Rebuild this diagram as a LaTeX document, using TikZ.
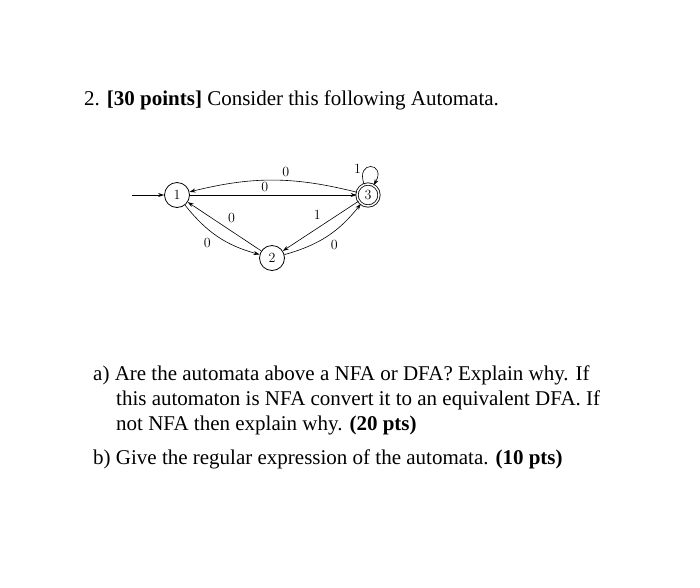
\documentclass[tikz,border=0pt]{standalone}
\usepackage{fontspec}
\setmainfont{Liberation Serif}
\newfontfamily\autofont{Latin Modern Roman}
\usetikzlibrary{arrows.meta}
\begin{document}
\begin{tikzpicture}[x=1pt,y=-1pt,
  st/.style={circle,draw,thick,minimum size=25pt,inner sep=0pt,font=\autofont\fontsize{14}{14}\selectfont},
  acc/.style={st,double,double distance=1.5pt,minimum size=22pt},
  edge/.style={-{Stealth[length=6pt,width=4pt]},semithick},
  lab/.style={font=\autofont\fontsize{14}{14}\selectfont},
  txt/.style={font=\fontsize{21}{25}\selectfont,anchor=base west,inner sep=0pt}]
\useasboundingbox (0,0) rectangle (700,587);
\node[txt] (t) at (84,105) {2. \textbf{[30 points]} Consider this following Automata.};
\node[st] (n1) at (177,195) {1};
\node[acc] (n3) at (368,195) {3};
\node[st] (n2) at (272,258) {2};
\coordinate (s) at (132,195);
\draw[edge] (s) -- (n1);
\draw[edge] (n1) -- node[lab,above,pos=0.45] {0} (n3);
\draw[edge] (n3) to[bend right=14] node[lab,above,pos=0.42] {0} (n1);
\draw[edge] (n1) to[bend right=18] node[lab,below left,pos=0.45] {0} (n2);
\draw[edge] (n2) -- node[lab,above right,pos=0.5] {0} (n1);
\draw[edge] (n3) -- node[lab,above left,pos=0.45] {1} (n2);
\draw[edge] (n2) to[bend right=18] node[lab,below right,pos=0.5] {0} (n3);
\draw[edge] (n3) to[out=110,in=60,looseness=7] node[lab,left,pos=0.3] {1} (n3);
\node[txt] (a1) at (93,380) {a) Are the automata above a NFA or DFA? Explain why. If};
\node[txt] (a2) at (116,405) {this automaton is NFA convert it to an equivalent DFA. If};
\node[txt] (a3) at (116,430) {not NFA then explain why. \textbf{(20 pts)}};
\node[txt] (b1) at (93,464) {b) Give the regular expression of the automata. \textbf{(10 pts)}};
\end{tikzpicture}
\end{document}
